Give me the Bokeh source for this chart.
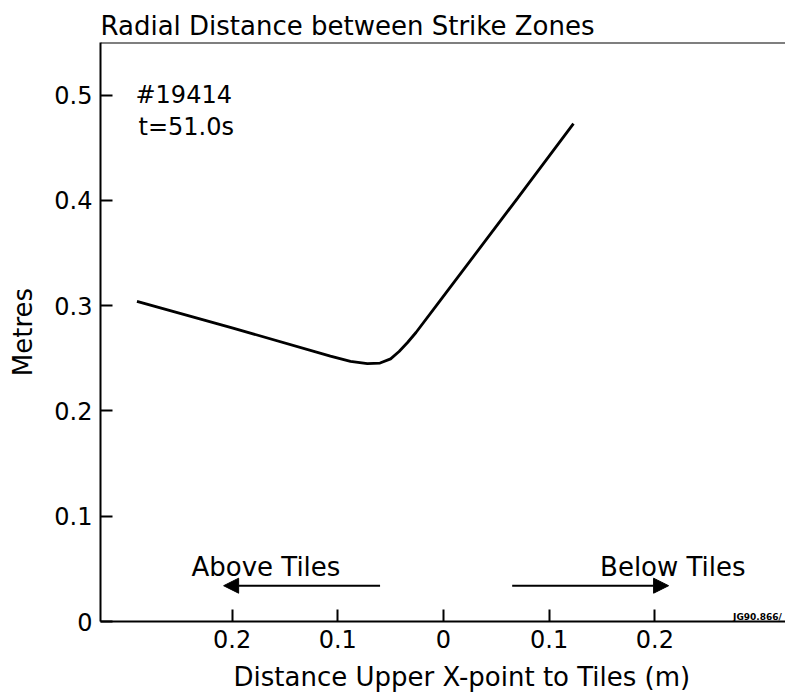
from bokeh.plotting import figure
from bokeh.models import (Range1d, FixedTicker, CustomJSTickFormatter, Label,
                          Arrow, NormalHead, Span, Title)
from bokeh.embed import file_html
from bokeh.resources import INLINE

# Distance of the upper X-point from the tiles (negative = above, positive = below)
x_dist = [-0.290, -0.200, -0.107, -0.088, -0.072, -0.060, -0.050, -0.042,
          -0.034, -0.026, -0.003, 0.070, 0.123]
# Radial distance between the strike zones (m)
radial = [0.304, 0.279, 0.252, 0.247, 0.245, 0.2455, 0.2495, 0.2565,
          0.265, 0.2745, 0.305, 0.402, 0.473]

x_ticks = [-0.2, -0.1, 0.0, 0.1, 0.2]
y_ticks = [0.0, 0.1, 0.2, 0.3, 0.4, 0.5]

# direction arrows: (start, end) along x, drawn at a fixed height
arrow_above = (-0.060, -0.208)
arrow_below = (0.065, 0.213)
arrow_y = 0.034

X_MIN, X_MAX = -0.3245, 0.3236
Y_MIN, Y_MAX = 0.0, 0.55

FONT = "DejaVu Sans"

p = figure(width=785, height=700, output_backend="svg", toolbar_location=None,
           x_range=Range1d(X_MIN, X_MAX), y_range=Range1d(Y_MIN, Y_MAX),
           min_border_left=100, min_border_right=0,
           min_border_bottom=78, min_border_top=42)

p.title.text = "Radial Distance between Strike Zones"
p.title.text_font = FONT
p.title.text_font_size = "26px"
p.title.text_font_style = "normal"
p.title.text_color = "black"
p.title.align = "left"
p.title.standoff = 4

p.grid.visible = False
p.outline_line_color = None
p.background_fill_color = "white"
p.border_fill_color = "white"

for ax in (p.xaxis[0], p.yaxis[0]):
    ax.axis_line_width = 2
    ax.axis_line_color = "black"
    ax.major_tick_line_color = "black"
    ax.major_tick_line_width = 2
    ax.major_tick_in = 12
    ax.major_tick_out = 0
    ax.minor_tick_line_color = None
    ax.major_label_text_font = FONT
    ax.major_label_text_font_size = "24px"
    ax.major_label_text_color = "black"
    ax.axis_label_text_font = FONT
    ax.axis_label_text_font_size = "26px"
    ax.axis_label_text_font_style = "normal"
    ax.axis_label_text_color = "black"

p.xaxis.ticker = FixedTicker(ticks=x_ticks)
p.xaxis.formatter = CustomJSTickFormatter(
    code="const a = Math.abs(tick); return a < 1e-9 ? '0' : a.toFixed(1);")
p.xaxis.major_label_standoff = 8

p.yaxis.ticker = FixedTicker(ticks=y_ticks)
p.yaxis.formatter = CustomJSTickFormatter(
    code="return Math.abs(tick) < 1e-9 ? '0' : tick.toFixed(1);")
p.yaxis.axis_label = "Metres"
p.yaxis.major_label_standoff = 8
p.yaxis.axis_label_standoff = 13

# x-axis caption, starting to the right of the frame's left edge
p.add_layout(Title(text="Distance Upper X-point to Tiles (m)", align="left",
                   offset=133, text_font=FONT, text_font_size="26px",
                   text_font_style="normal", text_color="black", standoff=18),
             "below")

# top border of the frame
p.add_layout(Span(location=Y_MAX, dimension="width", line_color="black",
                  line_width=2))

p.line(x_dist, radial, line_color="black", line_width=2.8)

for xs, xe in (arrow_above, arrow_below):
    p.add_layout(Arrow(end=NormalHead(size=15, fill_color="black",
                                      line_color="black"),
                       x_start=xs, y_start=arrow_y, x_end=xe, y_end=arrow_y,
                       line_color="black", line_width=2))

def label(x, y, text, size, align="left", style="normal"):
    p.add_layout(Label(x=x, y=y, text=text, text_font=FONT,
                       text_font_size=size, text_color="black",
                       text_font_style=style, text_align=align,
                       text_baseline="alphabetic"))

label(-0.2914, 0.5005, "#19414", "24px")
label(-0.2885, 0.4695, "t=51.0s", "24px")
label(-0.168, 0.052, "Above Tiles", "26px", align="center")
label(0.217, 0.052, "Below Tiles", "26px", align="center")
# small figure reference code in the lower right corner
label(0.274, 0.004, "JG90.866/", "9px", style="bold")

open("out.html", "w").write(file_html(p, INLINE))
